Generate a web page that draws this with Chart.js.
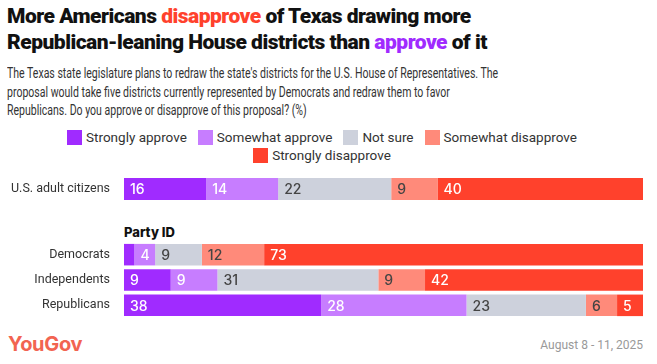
<!DOCTYPE html>
<html lang="en">
<head>
<meta charset="UTF-8">
<title>Texas redistricting approval</title>
<script src="https://cdn.jsdelivr.net/npm/chart.js"></script>
<style>
  body {
    margin: 0;
    width: 657px;
    height: 364px;
    position: relative;
    overflow: hidden;
    background: #fff;
    font-family: Roboto, "Noto Sans", Arial, sans-serif;
    color: #333;
  }
  h1 {
    position: absolute;
    left: 7px;
    top: 3px;
    margin: 0;
    font-size: 21px;
    line-height: 26px;
    font-weight: 900;
    color: #111;
    letter-spacing: -0.5px;
    white-space: nowrap;
  }
  .red { color: #ff412c; }
  .purple { color: #a02bff; }
  .sub {
    position: absolute;
    left: 7px;
    top: 64px;
    margin: 0;
    font-size: 14px;
    line-height: 18.5px;
    color: #333;
    white-space: nowrap;
    transform: scaleX(0.752);
    transform-origin: left top;
  }
  #legend {
    position: absolute;
    left: 52px;
    top: 130px;
    width: 540px;
    display: flex;
    flex-wrap: wrap;
    justify-content: center;
    column-gap: 11px;
    row-gap: 3px;
    font-size: 13.5px;
    line-height: 15px;
  }
  #legend span.item { display: flex; align-items: center; }
  #legend i { display: inline-block; width: 15px; height: 15px; margin-right: 4px; }
  .party {
    position: absolute;
    left: 124px;
    top: 224px;
    font-family: Inter, sans-serif;
    font-size: 13px;
    font-weight: 800;
    color: #111;
  }
  .chart { position: absolute; left: 0; width: 657px; }
  .logo {
    position: absolute;
    left: 8px;
    top: 332px;
    font-family: Inter, sans-serif;
    font-size: 20px;
    font-weight: 700;
    color: #f26451;
    letter-spacing: -0.3px;
  }
  .date {
    position: absolute;
    right: 14px;
    top: 338px;
    font-size: 12px;
    color: #999;
  }
</style>
</head>
<body>
<h1>More Americans <span class="red">disapprove</span> of Texas drawing more<br>Republican-leaning House districts than <span class="purple">approve</span> of it</h1>
<p class="sub">The Texas state legislature plans to redraw the state's districts for the U.S. House of Representatives. The<br>proposal would take five districts currently represented by Democrats and redraw them to favor<br>Republicans. Do you approve or disapprove of this proposal? (%)</p>
<div id="legend"></div>
<div class="chart" style="top:174px;height:30px"><canvas id="totalChart"></canvas></div>
<div class="party">Party ID</div>
<div class="chart" style="top:242px;height:76px"><canvas id="partyChart"></canvas></div>
<div class="logo">YouGov</div>
<div class="date">August 8 - 11, 2025</div>
<script>
const answers = ['Strongly approve', 'Somewhat approve', 'Not sure', 'Somewhat disapprove', 'Strongly disapprove'];
const colors = ['#a02bff', '#c77dff', '#cdd1dc', '#ff8a7a', '#ff412c'];
const labelColors = ['#fff', '#fff', '#444', '#444', '#fff'];

const totalGroups = ['U.S. adult citizens'];
const totalValues = [[16], [14], [22], [9], [40]];

const partyGroups = ['Democrats', 'Independents', 'Republicans'];
const stronglyApprove = [2, 9, 38];
const somewhatApprove = [4, 9, 28];
const notSure = [9, 31, 23];
const somewhatDisapprove = [12, 9, 6];
const stronglyDisapprove = [73, 42, 5];
const partyValues = [stronglyApprove, somewhatApprove, notSure, somewhatDisapprove, stronglyDisapprove];

// legend
const legend = document.getElementById('legend');
answers.forEach((a, i) => {
  const s = document.createElement('span');
  s.className = 'item';
  s.innerHTML = '<i style="background:' + colors[i] + '"></i>' + a;
  legend.appendChild(s);
});

// write the rounded number at the left of each segment
const segmentLabels = {
  id: 'segmentLabels',
  afterDatasetsDraw(chart) {
    const ctx = chart.ctx;
    ctx.save();
    ctx.font = '500 14px Inter, sans-serif';
    ctx.textBaseline = 'middle';
    ctx.textAlign = 'left';
    chart.data.datasets.forEach((ds, di) => {
      chart.getDatasetMeta(di).data.forEach((bar, i) => {
        const v = ds.raw[i];
        if (v < 3) return;
        ctx.fillStyle = labelColors[di];
        ctx.fillText(v, Math.min(bar.x, bar.base) + 6, bar.y + 1);
      });
    });
    ctx.restore();
  }
};

function makeChart(id, groups, values, thickness) {
  const totals = groups.map((g, i) => values.reduce((s, v) => s + v[i], 0));
  new Chart(document.getElementById(id), {
    type: 'bar',
    data: {
      labels: groups,
      datasets: values.map((v, di) => ({
        label: answers[di],
        raw: v,
        data: v.map((x, i) => x / totals[i] * 100),
        backgroundColor: colors[di],
        barPercentage: thickness,
        categoryPercentage: 1
      }))
    },
    options: {
      indexAxis: 'y',
      responsive: true,
      maintainAspectRatio: false,
      animation: false,
      layout: { padding: { left: 0, right: 14, top: 0, bottom: 0 } },
      scales: {
        x: { stacked: true, min: 0, max: 100, display: false },
        y: {
          stacked: true,
          grid: { display: false },
          border: { display: false },
          ticks: { color: '#333', font: { size: 12.5, family: 'Roboto' }, padding: 6 },
          afterFit(scale) {
            scale.width = 124;
            scale.paddingTop = 0;
            scale.paddingBottom = 0;
          }
        }
      },
      plugins: { legend: { display: false }, tooltip: { enabled: false } }
    },
    plugins: [segmentLabels]
  });
}

makeChart('totalChart', totalGroups, totalValues, 22 / 30);
makeChart('partyChart', partyGroups, partyValues, 0.85);
</script>
</body>
</html>
